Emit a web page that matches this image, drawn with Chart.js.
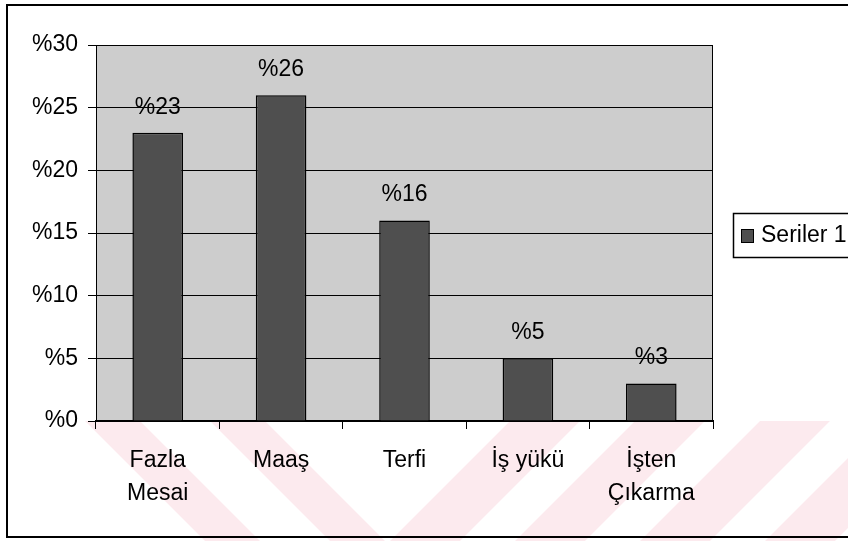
<!DOCTYPE html>
<html>
<head>
<meta charset="utf-8">
<script src="https://cdn.jsdelivr.net/npm/chart.js@4/dist/chart.umd.min.js"></script>
<style>
  html, body { margin: 0; padding: 0; background: #fff; }
  #wrap { width: 848px; height: 541px; }
</style>
</head>
<body>
<div id="wrap"><canvas id="chart" width="848" height="541"></canvas></div>
<script>
// chart data
var categories = [["Fazla", "Mesai"], "Maaş", "Terfi", "İş yükü", ["İşten", "Çıkarma"]];
var values = [23, 26, 16, 5, 3];
var yMin = 0, yMax = 30, yStep = 5;
var seriesName = "Seriler 1";

var FONT = "'Liberation Sans', Arial, sans-serif";
var plotFill = "#cdcdcd";
var barFill = "#4f4f4f";

// background, watermark, frame
var backdrop = {
    id: "backdrop",
    beforeDraw: function (chart) {
        var c = chart.ctx, a = chart.chartArea;
        c.save();
        c.fillStyle = "#fff";
        c.fillRect(0, 0, chart.width, chart.height);

        // faint pink watermark below the plot
        c.beginPath();
        c.rect(0, a.bottom, chart.width, chart.height - a.bottom);
        c.clip();
        c.fillStyle = "rgba(240, 150, 170, 0.2)";
        [85, 210].forEach(function (x0) {
            c.beginPath();
            c.moveTo(x0, 421); c.lineTo(x0 + 55, 421);
            c.lineTo(x0 + 175, 541); c.lineTo(x0 + 120, 541);
            c.closePath(); c.fill();
        });
        [390, 515, 640, 765].forEach(function (x1) {
            c.beginPath();
            c.moveTo(x1, 541); c.lineTo(x1 + 70, 541);
            c.lineTo(x1 + 190, 421); c.lineTo(x1 + 120, 421);
            c.closePath(); c.fill();
        });
        c.restore();

        c.save();
        c.fillStyle = plotFill;
        c.fillRect(a.left, a.top, a.right - a.left, a.bottom - a.top);
        c.strokeStyle = "#000";
        c.lineWidth = 2;
        c.strokeRect(7, 5, chart.width + 10, 532);
        c.restore();
    },
    beforeDatasetsDraw: function (chart) {
        var c = chart.ctx, a = chart.chartArea;
        c.save();
        c.strokeStyle = "#000";
        c.lineWidth = 1;
        c.strokeRect(a.left + 0.5, a.top + 0.5, a.right - a.left - 1, a.bottom - a.top);
        c.restore();
    },
    afterDatasetsDraw: function (chart) {
        var c = chart.ctx;
        var meta = chart.getDatasetMeta(0);
        c.save();
        c.font = "23px " + FONT;
        c.fillStyle = "#000";
        c.textAlign = "center";
        c.textBaseline = "alphabetic";
        meta.data.forEach(function (bar, i) {
            c.fillText("%" + values[i], bar.x, bar.y - 19);
        });
        c.restore();
    },
    afterDraw: function (chart) {
        var c = chart.ctx;
        c.save();
        // legend box
        c.strokeStyle = "#000";
        c.lineWidth = 1.5;
        c.strokeRect(733.5, 213.5, 140, 44);
        c.fillStyle = barFill;
        c.fillRect(741, 229, 12, 13);
        c.lineWidth = 1;
        c.strokeRect(741.5, 229.5, 12, 13);
        c.fillStyle = "#000";
        c.font = "23px " + FONT;
        c.textAlign = "left";
        c.textBaseline = "middle";
        c.fillText(seriesName, 761, 236);
        c.restore();
    }
};

var ctx = document.getElementById("chart").getContext("2d");
var myChart = new Chart(ctx, {
    type: "bar",
    data: {
        labels: categories,
        datasets: [{
            label: seriesName,
            data: values,
            backgroundColor: barFill,
            borderColor: "#000",
            borderWidth: 1.5,
            barPercentage: 0.41,
            categoryPercentage: 1
        }]
    },
    options: {
        responsive: false,
        animation: false,
        layout: { padding: { top: 45, right: 135, left: 0, bottom: 0 } },
        plugins: {
            legend: { display: false },
            tooltip: { enabled: false }
        },
        scales: {
            y: {
                min: yMin,
                max: yMax,
                ticks: {
                    stepSize: yStep,
                    color: "#000",
                    padding: 10,
                    font: { family: FONT, size: 23 },
                    callback: function (v) { return "%" + v; }
                },
                grid: { color: "#000", lineWidth: 1, tickLength: 8 },
                border: { color: "#000", width: 1 },
                afterFit: function (s) { s.width = 96; }
            },
            x: {
                ticks: {
                    color: "#000",
                    padding: 15,
                    font: { family: FONT, size: 23, lineHeight: 1.45 }
                },
                grid: { color: "#000", lineWidth: 1, tickLength: 8, drawOnChartArea: false },
                border: { color: "#000", width: 2 },
                afterFit: function (s) { s.height = 120; }
            }
        }
    },
    plugins: [backdrop]
});
</script>
</body>
</html>
